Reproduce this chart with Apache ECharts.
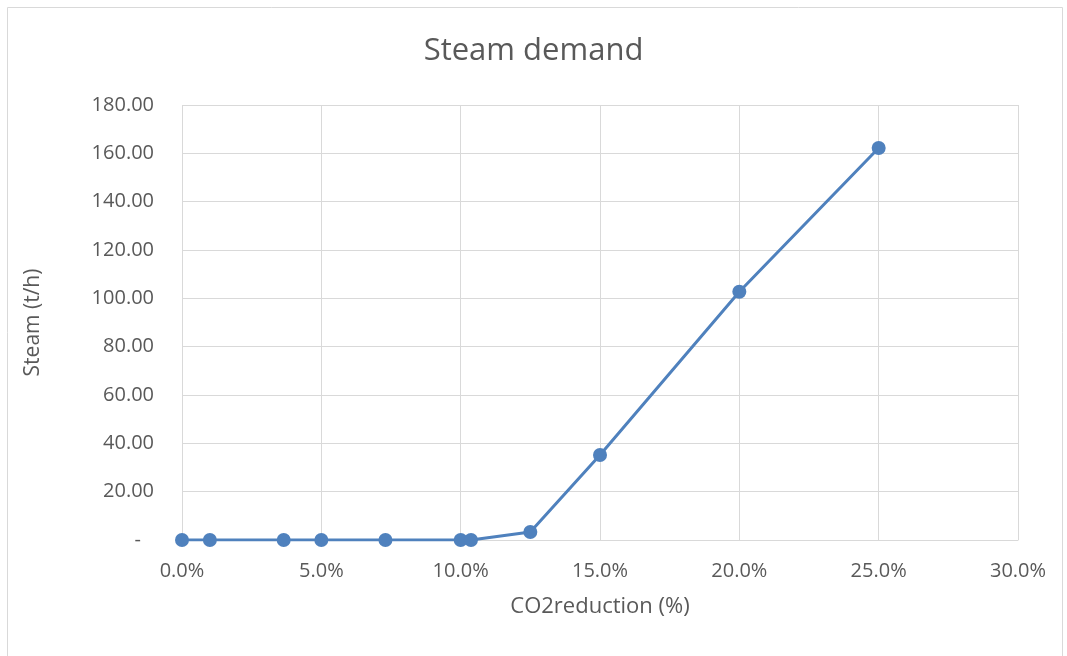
<!DOCTYPE html>
<html>
<head>
<meta charset="utf-8">
<script src="https://cdn.jsdelivr.net/npm/echarts@6/dist/echarts.min.js"></script>
<style>
    html, body { margin: 0; padding: 0; background: #fff; }
    #chart { width: 1067px; height: 656px; }
</style>
</head>
<body>
<div id="chart"></div>
<script>
// CO2 reduction (%) vs steam demand (t/h)
const co2Reduction = [0, 1.0, 3.65, 5.0, 7.3, 10.0, 10.37, 12.5, 15.0, 20.0, 25.0];
const steamDemand  = [0, 0, 0, 0, 0, 0, 0, 3.3, 35.2, 102.7, 162.2];

const textColor = '#595959';
const gridColor = '#d9d9d9';
const fontFamily = '"Open Sans", "Liberation Sans", sans-serif';

const chart = echarts.init(document.getElementById('chart'));

const points = co2Reduction.map((x, i) => [x, steamDemand[i]]);

chart.setOption({
    animation: false,
    textStyle: { fontFamily: fontFamily },
    title: {
        text: 'Steam demand',
        left: 'center',
        top: 31,
        textStyle: {
            color: textColor,
            fontSize: 31,
            fontWeight: 'normal',
            fontFamily: fontFamily
        }
    },
    graphic: [
        {
            type: 'rect',
            shape: { x: 7.5, y: 7.5, width: 1055, height: 660 },
            style: { fill: 'none', stroke: gridColor, lineWidth: 1 },
            silent: true
        }
    ],
    grid: {
        left: 182,
        right: 49,
        top: 105,
        bottom: 116
    },
    xAxis: {
        type: 'value',
        min: 0,
        max: 30,
        interval: 5,
        name: 'CO2reduction (%)',
        nameLocation: 'middle',
        nameGap: 56,
        nameTextStyle: { color: textColor, fontSize: 22, fontFamily: fontFamily },
        axisLine: { show: true, lineStyle: { color: gridColor, width: 1 } },
        axisTick: { show: false },
        axisLabel: {
            color: textColor,
            fontSize: 20,
            margin: 21,
            formatter: v => v.toFixed(1) + '%'
        },
        splitLine: { show: true, lineStyle: { color: gridColor, width: 1 } }
    },
    yAxis: {
        type: 'value',
        min: 0,
        max: 180,
        interval: 20,
        name: 'Steam (t/h)',
        nameLocation: 'middle',
        nameGap: 138,
        nameRotate: 90,
        nameTextStyle: { color: textColor, fontSize: 21, fontFamily: fontFamily },
        axisLine: { show: false },
        axisTick: { show: false },
        axisLabel: {
            color: textColor,
            fontSize: 20,
            margin: 28,
            formatter: v => v === 0 ? '{d|-}' : v.toFixed(2),
            rich: {
                d: { color: textColor, fontSize: 20, padding: [0, 13, 0, 0] }
            }
        },
        splitLine: { show: true, lineStyle: { color: gridColor, width: 1 } }
    },
    series: [
        {
            type: 'line',
            data: points,
            symbol: 'circle',
            symbolSize: 14,
            itemStyle: { color: '#4f81bd' },
            lineStyle: { color: '#4f81bd', width: 3 }
        }
    ]
});
</script>
</body>
</html>
